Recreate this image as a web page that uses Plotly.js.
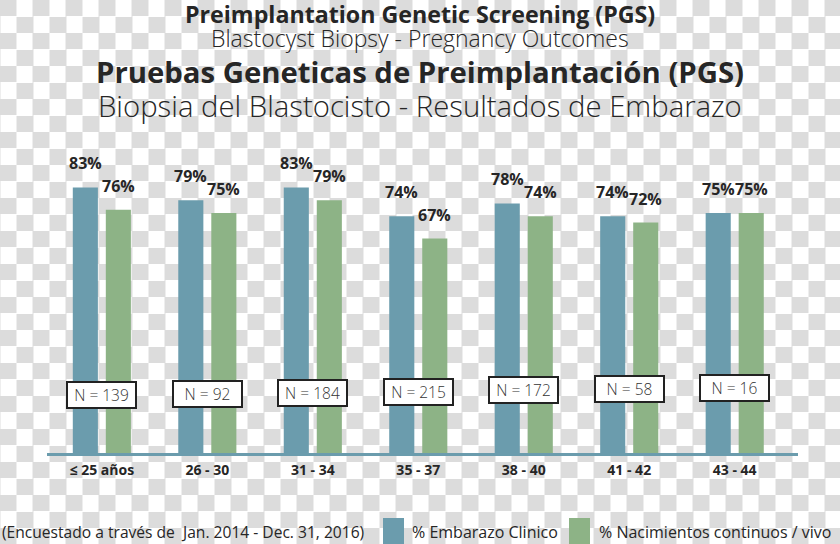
<!DOCTYPE html>
<html>
<head>
<meta charset="utf-8">
<script src="https://cdn.plot.ly/plotly-3.0.1.min.js"></script>
<style>
  html, body { margin: 0; padding: 0; }
  body {
    width: 840px; height: 544px; overflow: hidden;
    background-color: #ffffff;
    background-image: conic-gradient(#dcdcdc 0 25%, #ffffff 0 50%, #dcdcdc 0 75%, #ffffff 0);
    background-size: 33px 33px;
    background-position: 16.5px 0;
  }
  #chart { width: 840px; height: 544px; }
</style>
</head>
<body>
<div id="chart"></div>
<script>
// ---- data ----
const categories = ["≤ 25 años", "26 - 30", "31 - 34", "35 - 37", "38 - 40", "41 - 42", "43 - 44"];
const embarazoClinico = [83, 79, 83, 74, 78, 74, 75];
const nacimientosVivos = [76, 75, 79, 67, 74, 72, 75];
const sampleSizes = [139, 92, 184, 215, 172, 58, 16];
const seriesNames = ["% Embarazo Clinico", "% Nacimientos continuos / vivo"];
const titleLines = [
  "Preimplantation Genetic Screening (PGS)",
  "Blastocyst Biopsy - Pregnancy Outcomes",
  "Pruebas Geneticas de Preimplantación (PGS)",
  "Biopsia del Blastocisto - Resultados de Embarazo"
];
const footnote = "(Encuestado a través de  Jan. 2014 - Dec. 31, 2016)";

// ---- layout helpers ----
const W = 840, H = 544;
const M = { l: 47, r: 42, t: 133, b: 91 };
const PW = W - M.l - M.r, PH = H - M.t - M.b;
const px = x => (x - M.l) / PW;        // pixel x -> paper
const py = y => (H - M.b - y) / PH;    // pixel y -> paper

const BLUE = "#6b9cad";
const GREEN = "#8db386";
const FONT = "Open Sans";

const traces = [
  { type: "bar", name: seriesNames[0], x: categories, y: embarazoClinico,
    marker: { color: BLUE }, hoverinfo: "skip" },
  { type: "bar", name: seriesNames[1], x: categories, y: nacimientosVivos,
    marker: { color: GREEN }, hoverinfo: "skip" }
];

const annotations = [];
// title lines
const titleStyles = [
  { y: 14, size: 23.2, weight: 700 },
  { y: 38.5, size: 23, weight: 300 },
  { y: 72, size: 29.3, weight: 700 },
  { y: 106, size: 29.3, weight: 300 }
];
titleLines.forEach((t, i) => {
  const s = titleStyles[i];
  annotations.push({ text: t, xref: "paper", yref: "paper", x: px(420), y: py(s.y),
    xanchor: "center", yanchor: "middle", showarrow: false, borderpad: 0,
    font: { family: FONT, size: s.size, weight: s.weight, color: "#262626" } });
});
// value labels
const offset = 16.5;
categories.forEach((c, i) => {
  annotations.push({ text: embarazoClinico[i] + "%", x: c, y: embarazoClinico[i], xref: "x", yref: "y",
    xshift: -offset, yshift: 11, yanchor: "bottom", xanchor: "center", showarrow: false,
    font: { family: FONT, size: 16, weight: 700, color: "#262626" } });
  annotations.push({ text: nacimientosVivos[i] + "%", x: c, y: nacimientosVivos[i], xref: "x", yref: "y",
    xshift: offset, yshift: 11, yanchor: "bottom", xanchor: "center", showarrow: false,
    font: { family: FONT, size: 16, weight: 700, color: "#262626" } });
  // N boxes
  annotations.push({ text: "N = " + sampleSizes[i], x: c, y: 18.1 + i * 0.37, xref: "x", yref: "y",
    xanchor: "center", yanchor: "middle", showarrow: false,
    width: 63, height: 20, borderpad: 2, borderwidth: 2, bordercolor: "#222222", bgcolor: "#ffffff",
    font: { family: FONT, size: 15.5, weight: 300, color: "#333333" } });
});
// footnote + legend text
annotations.push({ text: footnote, xref: "paper", yref: "paper", x: px(0), y: py(532),
  xanchor: "left", yanchor: "middle", showarrow: false,
  font: { family: FONT, size: 15.6, color: "#262626" } });
annotations.push({ text: seriesNames[0], xref: "paper", yref: "paper", x: px(410), y: py(532),
  xanchor: "left", yanchor: "middle", showarrow: false,
  font: { family: FONT, size: 16, color: "#262626" } });
annotations.push({ text: seriesNames[1], xref: "paper", yref: "paper", x: px(597), y: py(532),
  xanchor: "left", yanchor: "middle", showarrow: false,
  font: { family: FONT, size: 16, color: "#262626" } });

const shapes = [
  { type: "rect", xref: "paper", yref: "paper", x0: px(383), x1: px(404), y0: py(518), y1: py(548),
    fillcolor: BLUE, line: { width: 0 }, layer: "above" },
  { type: "rect", xref: "paper", yref: "paper", x0: px(569), x1: px(590), y0: py(518), y1: py(548),
    fillcolor: GREEN, line: { width: 0 }, layer: "above" }
];

const layout = {
  width: W, height: H,
  margin: M,
  paper_bgcolor: "rgba(0,0,0,0)",
  plot_bgcolor: "rgba(0,0,0,0)",
  barmode: "group",
  bargap: 0.374,
  bargroupgap: 0.24,
  showlegend: false,
  xaxis: {
    type: "category", range: [-0.52, 6.6],
    showline: true, linecolor: BLUE, linewidth: 3,
    showgrid: false, zeroline: false, ticks: "",
    ticklabelstandoff: 2,
    tickfont: { family: FONT, size: 14, weight: 700, color: "#262626" },
    fixedrange: true
  },
  yaxis: { range: [0, 100], visible: false, showgrid: false, zeroline: false, fixedrange: true },
  annotations: annotations,
  shapes: shapes
};

Plotly.newPlot("chart", traces, layout, { displayModeBar: false, staticPlot: true });
</script>
</body>
</html>
